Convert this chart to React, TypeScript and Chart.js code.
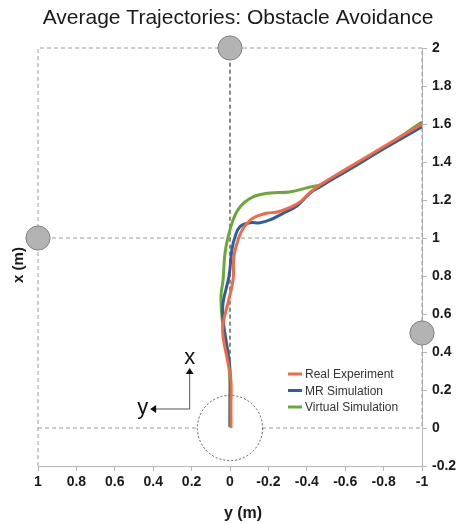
import React, { useEffect, useRef } from "react";
import { Chart, registerables } from "chart.js";

Chart.register(...registerables);

// Trajectory data: lateral position y (m) and forward position x (m)
const realLat = [-0.005, -0.005, -0.005, 0.01, 0.036, 0.036, 0.01, -0.016, -0.02, -0.042, -0.068, -0.12, -0.19, -0.245, -0.31, -0.365, -0.417, -0.47, -0.6, -0.8, -1];
const realFwd = [0.0, 0.13, 0.25, 0.34, 0.48, 0.55, 0.66, 0.78, 0.9, 0.99, 1.05, 1.105, 1.13, 1.137, 1.16, 1.19, 1.24, 1.28, 1.36, 1.48, 1.6];

const mrLat = [0, 0, 0, 0.016, 0.036, 0.036, 0.005, -0.01, -0.026, -0.052, -0.104, -0.156, -0.208, -0.276, -0.35, -0.417, -0.47, -0.7, -1];
const mrFwd = [0.005, 0.13, 0.305, 0.43, 0.57, 0.66, 0.8, 0.94, 1.005, 1.06, 1.08, 1.08, 1.095, 1.13, 1.17, 1.237, 1.27, 1.41, 1.585];

const virtLat = [0, 0, 0.01, 0.036, 0.047, 0.036, 0.026, 0.01, -0.016, -0.052, -0.12, -0.208, -0.31, -0.417, -0.47, -0.57, -0.75, -1];
const virtFwd = [0.01, 0.25, 0.39, 0.53, 0.69, 0.78, 0.92, 1.005, 1.095, 1.163, 1.216, 1.237, 1.242, 1.268, 1.28, 1.33, 1.44, 1.61];

const seriesLabels = ["Real Experiment", "MR Simulation", "Virtual Simulation"];
const seriesColors = ["#f06a45", "#2d5f9a", "#6aa83a"];

const obstacleLat = [0, 1, -1];
const obstacleFwd = [2, 1, 0.5];
const obstacleRadius = 0.063;
const robotRadius = 0.17;

const xTicksMin = -1;
const xTicksMax = 1;
const yTicksMin = -0.2;
const yTicksMax = 2;
const tickStep = 0.2;

const titleText = "Average Trajectories: Obstacle Avoidance";
const xAxisTitle = "y (m)";
const yAxisTitle = "x (m)";

const FONT = "'Liberation Sans', Arial, sans-serif";

function fmt(v: number) {
  const r = Math.round(v * 10) / 10;
  if (Math.abs(r) < 1e-9) return "0";
  return String(r);
}

const toPts = (lat: number[], fwd: number[]) => lat.map((v, i) => ({ x: v, y: fwd[i] }));

const overlayPlugin = {
  id: "overlay",
  beforeDatasetsDraw(chart: any) {
    const { ctx, scales } = chart;
    const xs = scales.x;
    const ys = scales.y;
    const px = (v: number) => xs.getPixelForValue(v);
    const py = (v: number) => ys.getPixelForValue(v);
    ctx.save();
    // grey dashed frame and guide lines
    ctx.strokeStyle = "#9a9a9a";
    ctx.lineWidth = 1;
    ctx.setLineDash([4, 3]);
    ctx.beginPath();
    ctx.moveTo(px(1), py(yTicksMin));
    ctx.lineTo(px(1), py(2));
    ctx.lineTo(px(-1), py(2));
    ctx.lineTo(px(-1), py(0));
    ctx.moveTo(px(1), py(1));
    ctx.lineTo(px(-1), py(1));
    ctx.moveTo(px(1), py(0));
    ctx.lineTo(px(-1), py(0));
    ctx.stroke();
    // black dashed centre line
    ctx.strokeStyle = "#111";
    ctx.beginPath();
    ctx.moveTo(px(0), py(robotRadius));
    ctx.lineTo(px(0), py(2));
    ctx.stroke();
    // robot circle
    const rr = Math.abs(px(robotRadius) - px(0));
    ctx.setLineDash([2, 2]);
    ctx.strokeStyle = "#555";
    ctx.fillStyle = "#fff";
    ctx.beginPath();
    ctx.arc(px(0), py(0), rr, 0, Math.PI * 2);
    ctx.fill();
    ctx.stroke();
    ctx.setLineDash([]);
    // obstacles
    const orad = Math.abs(px(obstacleRadius) - px(0));
    obstacleLat.forEach((lat, i) => {
      ctx.beginPath();
      ctx.arc(px(lat), py(obstacleFwd[i]), orad, 0, Math.PI * 2);
      ctx.fillStyle = "#b3b3b3";
      ctx.fill();
      ctx.strokeStyle = "#7f7f7f";
      ctx.lineWidth = 1;
      ctx.stroke();
    });
    // frame arrows annotation
    ctx.strokeStyle = "#555";
    ctx.fillStyle = "#111";
    ctx.lineWidth = 1;
    const ax = px(0.21);
    const ay = py(0.1);
    const topY = py(0.29);
    const leftX = px(0.39);
    ctx.beginPath();
    ctx.moveTo(ax, topY);
    ctx.lineTo(ax, ay);
    ctx.lineTo(leftX, ay);
    ctx.stroke();
    ctx.beginPath();
    ctx.moveTo(ax, topY - 5);
    ctx.lineTo(ax - 4, topY + 1);
    ctx.lineTo(ax + 4, topY + 1);
    ctx.closePath();
    ctx.fill();
    ctx.beginPath();
    ctx.moveTo(leftX - 5, ay);
    ctx.lineTo(leftX + 1, ay - 4);
    ctx.lineTo(leftX + 1, ay + 4);
    ctx.closePath();
    ctx.fill();
    ctx.font = `22px ${FONT}`;
    ctx.textAlign = "center";
    ctx.textBaseline = "alphabetic";
    ctx.fillText("x", ax, topY - 9);
    ctx.fillText("y", px(0.455), ay + 5);
    ctx.restore();
  },
  afterDraw(chart: any) {
    const { ctx, chartArea } = chart;
    ctx.save();
    // title
    ctx.fillStyle = "#1a1a1a";
    ctx.font = `21px ${FONT}`;
    ctx.textAlign = "center";
    ctx.textBaseline = "middle";
    ctx.fillText(titleText, 238, 18);
    // axis titles
    ctx.font = `bold 16px ${FONT}`;
    ctx.fillText(xAxisTitle, 243, 514);
    ctx.save();
    ctx.translate(19, 265);
    ctx.rotate(-Math.PI / 2);
    ctx.font = `bold 15px ${FONT}`;
    ctx.fillText(yAxisTitle, 0, 0);
    ctx.restore();
    // legend
    const lx = chartArea.left + 250;
    const ly0 = 374;
    ctx.font = `12px ${FONT}`;
    ctx.textAlign = "left";
    seriesLabels.forEach((lab, i) => {
      const yy = ly0 + i * 16.5;
      ctx.strokeStyle = seriesColors[i];
      ctx.lineWidth = 3;
      ctx.beginPath();
      ctx.moveTo(lx, yy);
      ctx.lineTo(lx + 14, yy);
      ctx.stroke();
      ctx.fillStyle = "#333";
      ctx.fillText(lab, lx + 17, yy + 1);
    });
    ctx.restore();
  },
};

export default function App() {
  const ref = useRef<HTMLCanvasElement | null>(null);
  useEffect(() => {
    if (!ref.current) return;
    const tickFont = { family: FONT, size: 14, weight: "bold" as const };
    const chart = new Chart(ref.current, {
      type: "scatter",
      data: {
        datasets: [
          { label: seriesLabels[0], data: toPts(realLat, realFwd) },
          { label: seriesLabels[1], data: toPts(mrLat, mrFwd) },
          { label: seriesLabels[2], data: toPts(virtLat, virtFwd) },
        ].map((d, i) => ({
          ...d,
          showLine: true,
          borderColor: seriesColors[i],
          backgroundColor: seriesColors[i],
          borderWidth: 3,
          pointRadius: 0,
          tension: 0.4,
          fill: false,
        })),
      },
      options: {
        responsive: false,
        animation: false,
        devicePixelRatio: 1,
        layout: { padding: { top: 48, left: 38, right: 0, bottom: 0 } },
        plugins: {
          legend: { display: false },
          title: { display: false },
          tooltip: { enabled: false },
        },
        scales: {
          x: {
            type: "linear",
            reverse: true,
            min: xTicksMin,
            max: xTicksMax,
            ticks: {
              stepSize: tickStep,
              callback: (v: any) => fmt(Number(v)),
              font: tickFont,
              color: "#1a1a1a",
              padding: 3,
              maxRotation: 0,
              autoSkip: false,
            },
            grid: { drawOnChartArea: false, drawTicks: true, tickLength: 5, color: "#b5b5b5" },
            border: { color: "#b5b5b5" },
            afterFit: (s: any) => {
              s.height = 58;
            },
          },
          y: {
            type: "linear",
            position: "right",
            min: yTicksMin,
            max: yTicksMax,
            ticks: {
              stepSize: tickStep,
              callback: (v: any) => fmt(Number(v)),
              font: tickFont,
              color: "#1a1a1a",
              padding: 5,
              autoSkip: false,
            },
            grid: { drawOnChartArea: false, drawTicks: true, tickLength: 5, color: "#b5b5b5" },
            border: { color: "#b5b5b5" },
            afterFit: (s: any) => {
              s.width = 37;
            },
          },
        },
      } as any,
      plugins: [overlayPlugin],
    });
    return () => chart.destroy();
  }, []);
  return (
    <div style={{ position: "fixed", left: 0, top: 0, width: 459, height: 524, background: "#fff" }}>
      <canvas ref={ref} width={459} height={524} style={{ display: "block" }} />
    </div>
  );
}
